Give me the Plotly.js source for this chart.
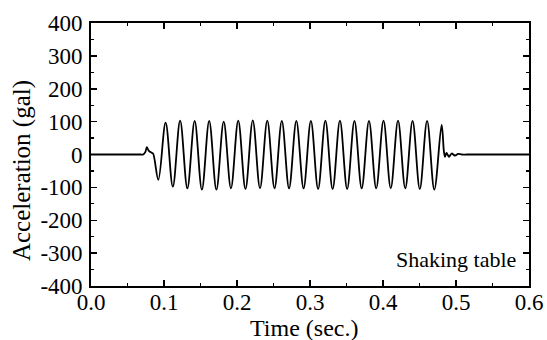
<!DOCTYPE html>
<html>
<head>
<meta charset="utf-8">
<script src="https://cdn.plot.ly/plotly-3.0.1.min.js"></script>
<style>html,body{margin:0;padding:0;background:#fff;}#plot{width:547px;height:340px;}</style>
</head>
<body>
<div id="plot"></div>
<script>
// Time (s) and acceleration (gal): onset blip, peaks/troughs, decay tail
var timeSec = [
  0.000, 0.030, 0.060, 0.068, 0.0715, 0.0745, 0.0765, 0.0790, 0.0825, 0.0850,
  0.0922, 0.1022, 0.1121, 0.1221, 0.1320, 0.1420, 0.1519, 0.1619,
  0.1718, 0.1818, 0.1917, 0.2017, 0.2116, 0.2216, 0.2315, 0.2415,
  0.2514, 0.2614, 0.2713, 0.2813, 0.2912, 0.3012, 0.3111, 0.3211,
  0.3310, 0.3410, 0.3509, 0.3609, 0.3708, 0.3808, 0.3907, 0.4007,
  0.4106, 0.4206, 0.4305, 0.4405, 0.4504, 0.4604, 0.4703, 0.4803,
  0.4835, 0.4850, 0.4870, 0.4904, 0.4940, 0.4986, 0.5030, 0.5080,
  0.5150, 0.5300, 0.5600, 0.5900, 0.6000
];
var accelGal = [
  0, 0, 0, 0, 0, 8, 22, 12, 6, 3,
  -77, 97, -98, 103, -103, 102, -107, 102,
  -107, 100, -103, 103, -105, 104, -103, 103,
  -103, 102, -103, 102, -103, 102, -105, 103,
  -105, 103, -105, 102, -103, 102, -103, 103,
  -103, 103, -103, 102, -105, 102, -107, 90,
  8, -7, 5, -7, 3, -3, 2, 0,
  0, 0, 0, 0, 0
];
var yTickVals = [-400, -300, -200, -100, 0, 100, 200, 300, 400];
var yTickText = ['-400', '-300', '-200', '-100', '0', '100', '200', '300', '400'];
var xTickVals = [0.0, 0.1, 0.2, 0.3, 0.4, 0.5, 0.6];
var xTickText = ['0.0', '0.1', '0.2', '0.3', '0.4', '0.5', '0.6'];
var xTitle = 'Time (sec.)';
var yTitle = 'Acceleration (gal)';
var seriesLabel = 'Shaking table';

var font = 'Liberation Serif, Times New Roman, serif';
var trace = {
  x: timeSec, y: accelGal, type: 'scatter', mode: 'lines',
  line: {color: '#000', width: 1.8, shape: 'spline', smoothing: 1},
  hoverinfo: 'skip'
};
var layout = {
  width: 547, height: 340,
  margin: {l: 91, r: 18, t: 23, b: 54},
  paper_bgcolor: '#fff', plot_bgcolor: '#fff',
  showlegend: false,
  font: {family: font, color: '#000', size: 23},
  xaxis: {
    range: [0, 0.6], tickvals: xTickVals, ticktext: xTickText,
    ticks: 'inside', ticklen: 6, tickwidth: 1.5, tickcolor: '#000',
    minor: {dtick: 0.05, tick0: 0, ticks: 'inside', ticklen: 3, tickwidth: 1.2, tickcolor: '#000'},
    showline: true, linecolor: '#000', linewidth: 1.8, mirror: 'ticks',
    showgrid: false, zeroline: false,
    tickfont: {family: font, size: 23, color: '#000'},
    ticklabelstandoff: -5
  },
  yaxis: {
    range: [-400, 400], tickvals: yTickVals, ticktext: yTickText,
    ticks: 'inside', ticklen: 6, tickwidth: 1.5, tickcolor: '#000',
    minor: {dtick: 50, tick0: 0, ticks: 'inside', ticklen: 3, tickwidth: 1.2, tickcolor: '#000'},
    showline: true, linecolor: '#000', linewidth: 1.8, mirror: 'ticks',
    showgrid: false, zeroline: false,
    tickfont: {family: font, size: 23, color: '#000'},
    ticklabelstandoff: 2
  },
  annotations: [
    {
      text: seriesLabel, xref: 'paper', yref: 'paper', x: 0.975, y: 0.1,
      xanchor: 'right', yanchor: 'middle', showarrow: false,
      font: {family: font, size: 22, color: '#000'}
    },
    {
      text: xTitle, xref: 'paper', yref: 'paper', x: 0.486, y: -0.16,
      xanchor: 'center', yanchor: 'middle', showarrow: false,
      font: {family: font, size: 24, color: '#000'}
    },
    {
      text: yTitle, xref: 'paper', yref: 'paper', x: -0.1575, y: 0.437,
      xanchor: 'center', yanchor: 'middle', showarrow: false, textangle: -90,
      font: {family: font, size: 25, color: '#000'}
    }
  ]
};
Plotly.newPlot('plot', [trace], layout, {displayModeBar: false, staticPlot: true});
</script>
</body>
</html>
